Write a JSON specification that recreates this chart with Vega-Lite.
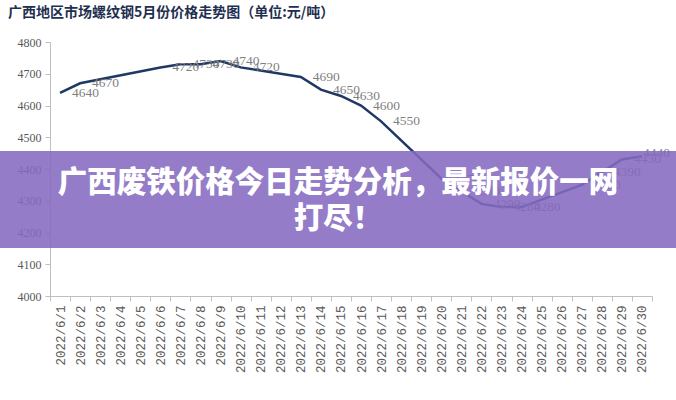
{
  "$schema": "https://vega.github.io/schema/vega-lite/v6.json",
  "width": 602,
  "height": 254,
  "autosize": "none",
  "padding": {"left": 50, "top": 42, "right": 24, "bottom": 104},
  "background": "white",
  "config": {
    "view": {"stroke": null},
    "axisY": {
      "title": null,
      "values": [4000, 4100, 4200, 4300, 4400, 4500, 4600, 4700, 4800],
      "format": "d",
      "labelOverlap": false,
      "labelFont": "Liberation Serif",
      "labelFontSize": 12,
      "labelColor": "#595959",
      "tickColor": "#bfbfbf",
      "tickSize": 5,
      "domainColor": "#bfbfbf",
      "labelPadding": 4,
      "grid": false
    }
  },
  "title": {
    "text": "广西地区市场螺纹钢5月份价格走势图（单位:元/吨）",
    "anchor": "start",
    "frame": "group",
    "dx": -42,
    "offset": 16,
    "font": "Noto Sans CJK SC",
    "fontSize": 14,
    "fontWeight": "bold",
    "color": "#1f2f4f"
  },
  "datasets": {
    "prices": [
      {"date": "2022/6/1", "price": 4640},
      {"date": "2022/6/2", "price": 4670},
      {"date": "2022/6/6", "price": 4720},
      {"date": "2022/6/7", "price": 4730},
      {"date": "2022/6/8", "price": 4730},
      {"date": "2022/6/9", "price": 4740},
      {"date": "2022/6/10", "price": 4720},
      {"date": "2022/6/13", "price": 4690},
      {"date": "2022/6/14", "price": 4650},
      {"date": "2022/6/15", "price": 4630},
      {"date": "2022/6/16", "price": 4600},
      {"date": "2022/6/17", "price": 4550},
      {"date": "2022/6/20", "price": 4370},
      {"date": "2022/6/21", "price": 4330},
      {"date": "2022/6/22", "price": 4290},
      {"date": "2022/6/23", "price": 4280},
      {"date": "2022/6/24", "price": 4280},
      {"date": "2022/6/27", "price": 4350},
      {"date": "2022/6/28", "price": 4390},
      {"date": "2022/6/29", "price": 4430},
      {"date": "2022/6/30", "price": 4440}
    ],
    "banner": [
      {"headline": "广西废铁价格今日走势分析，最新报价一网\n打尽！"}
    ]
  },
  "layer": [
    {
      "data": {"name": "prices"},
      "mark": {"type": "line", "color": "#1F3864", "strokeWidth": 2.5},
      "encoding": {
        "x": {
          "field": "date",
          "type": "ordinal",
          "sort": null,
          "scale": {
            "type": "band",
            "domain": ["2022/6/1","2022/6/2","2022/6/3","2022/6/4","2022/6/5","2022/6/6","2022/6/7","2022/6/8","2022/6/9","2022/6/10","2022/6/11","2022/6/12","2022/6/13","2022/6/14","2022/6/15","2022/6/16","2022/6/17","2022/6/18","2022/6/19","2022/6/20","2022/6/21","2022/6/22","2022/6/23","2022/6/24","2022/6/25","2022/6/26","2022/6/27","2022/6/28","2022/6/29","2022/6/30"],
            "paddingInner": 0,
            "paddingOuter": 0
          },
          "axis": {
            "title": null,
            "labelAngle": -90,
            "labelFont": "Liberation Mono",
            "labelFontSize": 12.5,
            "labelColor": "#595959",
            "tickBand": "extent",
            "tickColor": "#bfbfbf",
            "tickSize": 5,
            "domainColor": "#bfbfbf",
            "labelPadding": 4,
            "grid": false
          }
        },
        "y": {
          "field": "price",
          "type": "quantitative",
          "title": null,
          "scale": {"domain": [4000, 4800], "nice": false, "zero": false}
        }
      }
    },
    {
      "data": {"name": "prices"},
      "transform": [{"filter": "datum.date != '2022/6/30'"}],
      "mark": {"type": "text", "align": "left", "baseline": "middle", "dx": 12, "font": "Liberation Serif", "fontSize": 13.5, "color": "#7f7f7f"},
      "encoding": {
        "x": {"field": "date", "type": "ordinal", "sort": null},
        "y": {"field": "price", "type": "quantitative", "title": null},
        "text": {"field": "price", "type": "quantitative", "format": "d"}
      }
    },
    {
      "data": {"name": "prices"},
      "transform": [{"filter": "datum.date == '2022/6/30'"}],
      "mark": {"type": "text", "align": "left", "baseline": "middle", "dx": 1, "dy": -3, "font": "Liberation Serif", "fontSize": 13.5, "color": "#7f7f7f"},
      "encoding": {
        "x": {"field": "date", "type": "ordinal", "sort": null},
        "y": {"field": "price", "type": "quantitative", "title": null},
        "text": {"field": "price", "type": "quantitative", "format": "d"}
      }
    },
    {
      "data": {"name": "banner"},
      "mark": {"type": "rect", "color": "#856ac0", "opacity": 0.88, "x": -50, "x2": 626},
      "encoding": {
        "y": {"datum": 4151, "type": "quantitative", "title": null},
        "y2": {"datum": 4457}
      }
    },
    {
      "data": {"name": "banner"},
      "mark": {"type": "text", "align": "center", "baseline": "middle", "x": 288, "lineBreak": "\n", "lineHeight": 36, "font": "Noto Sans CJK SC", "fontSize": 29.5, "fontWeight": 900, "color": "white"},
      "encoding": {
        "y": {"datum": 4356, "type": "quantitative", "title": null},
        "text": {"field": "headline"}
      }
    }
  ]
}
